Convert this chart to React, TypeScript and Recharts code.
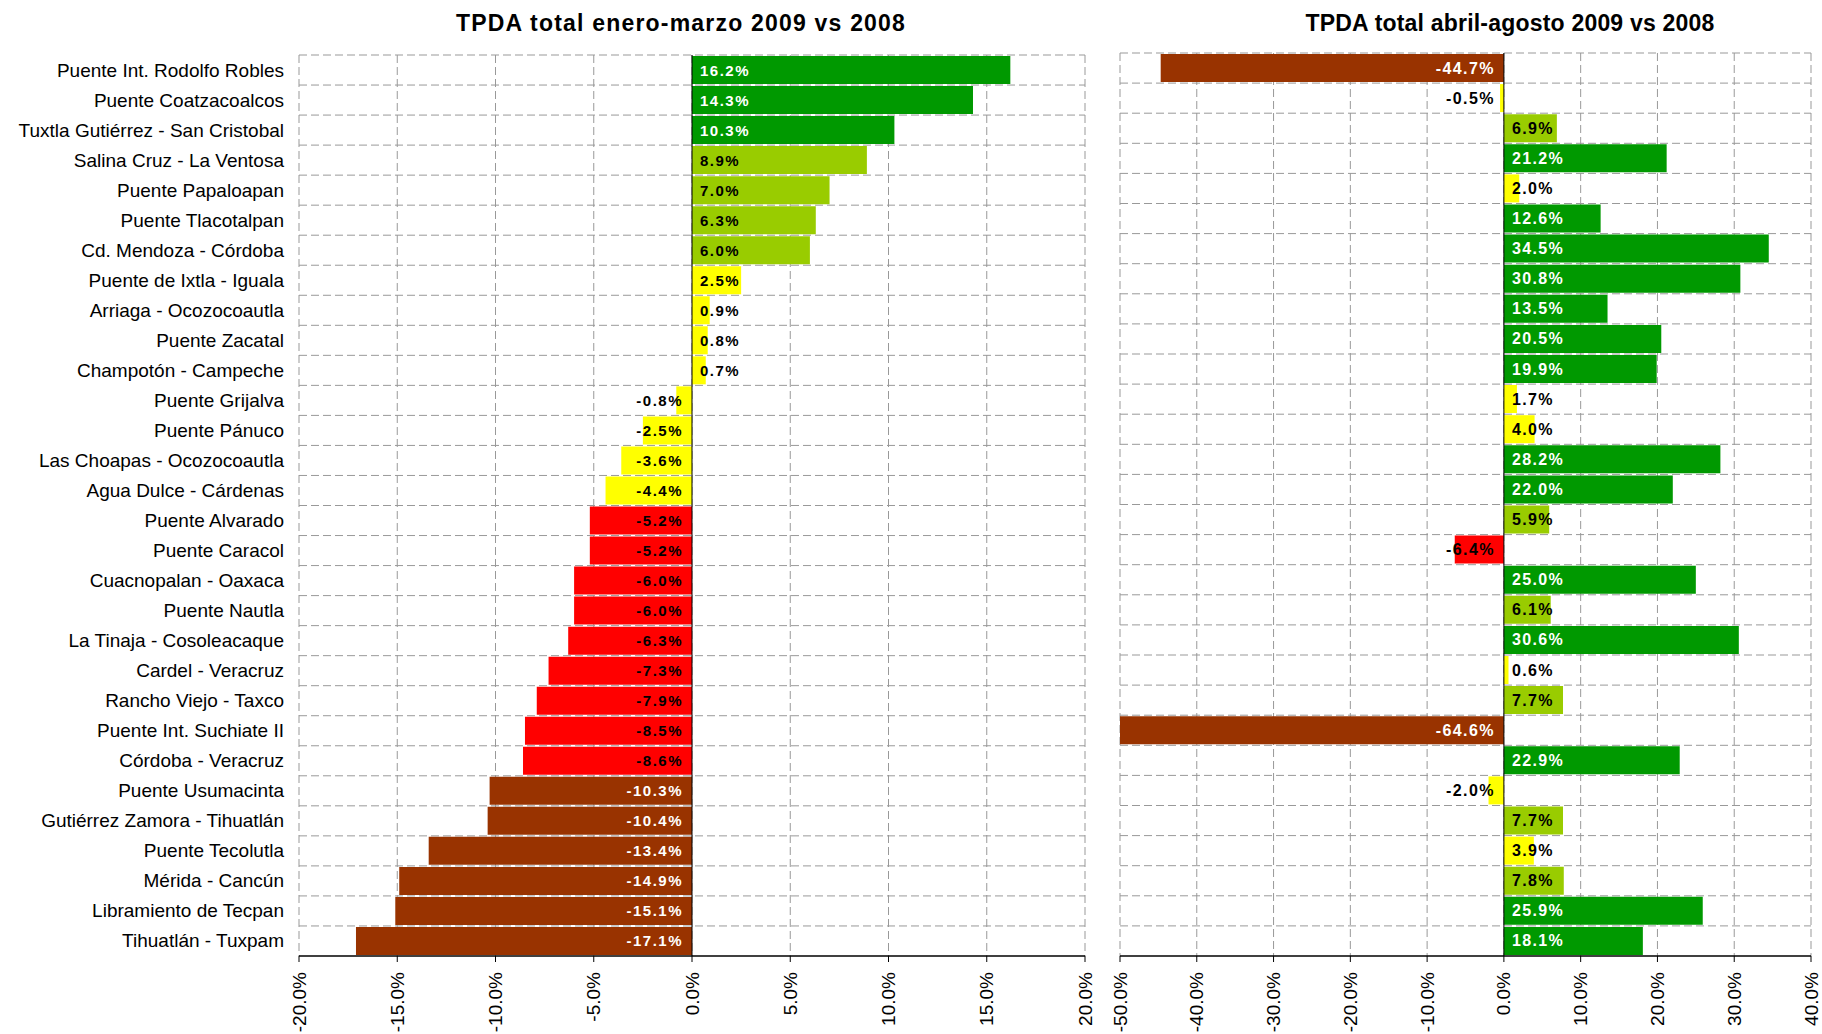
import React from "react";
import {
  BarChart,
  Bar,
  XAxis,
  YAxis,
  CartesianGrid,
  Cell,
  LabelList,
  ReferenceLine,
} from "recharts";

const categories = [
  "Puente Int. Rodolfo Robles",
  "Puente Coatzacoalcos",
  "Tuxtla Gutiérrez - San Cristobal",
  "Salina Cruz - La Ventosa",
  "Puente Papaloapan",
  "Puente Tlacotalpan",
  "Cd. Mendoza - Córdoba",
  "Puente de Ixtla - Iguala",
  "Arriaga - Ocozocoautla",
  "Puente Zacatal",
  "Champotón - Campeche",
  "Puente Grijalva",
  "Puente Pánuco",
  "Las Choapas - Ocozocoautla",
  "Agua Dulce - Cárdenas",
  "Puente Alvarado",
  "Puente Caracol",
  "Cuacnopalan - Oaxaca",
  "Puente Nautla",
  "La Tinaja - Cosoleacaque",
  "Cardel - Veracruz",
  "Rancho Viejo - Taxco",
  "Puente Int. Suchiate II",
  "Córdoba - Veracruz",
  "Puente Usumacinta",
  "Gutiérrez Zamora - Tihuatlán",
  "Puente Tecolutla",
  "Mérida - Cancún",
  "Libramiento de Tecpan",
  "Tihuatlán - Tuxpam",
];

// % change, January-March 2009 vs 2008
const eneroMarzo = [
  16.2, 14.3, 10.3, 8.9, 7.0, 6.3, 6.0, 2.5, 0.9, 0.8, 0.7, -0.8, -2.5, -3.6,
  -4.4, -5.2, -5.2, -6.0, -6.0, -6.3, -7.3, -7.9, -8.5, -8.6, -10.3, -10.4,
  -13.4, -14.9, -15.1, -17.1,
];

// % change, April-August 2009 vs 2008
const abrilAgosto = [
  -44.7, -0.5, 6.9, 21.2, 2.0, 12.6, 34.5, 30.8, 13.5, 20.5, 19.9, 1.7, 4.0,
  28.2, 22.0, 5.9, -6.4, 25.0, 6.1, 30.6, 0.6, 7.7, -64.6, 22.9, -2.0, 7.7,
  3.9, 7.8, 25.9, 18.1,
];

const leftTicks = [-20, -15, -10, -5, 0, 5, 10, 15, 20];
const rightTicks = [-50, -40, -30, -20, -10, 0, 10, 20, 30, 40];

const FONT = '"Liberation Sans", Arial, Helvetica, sans-serif';

// colour bands used by the original sheet
const colorFor = (v: number) => {
  if (v > 10) return "#009900";
  if (v >= 5) return "#99CC00";
  if (v > -5) return "#FFFF00";
  if (v >= -10) return "#FF0000";
  return "#993300";
};
const textFor = (v: number) => (v > 10 || v < -10 ? "#ffffff" : "#000000");

const pct = (v: number) => `${v.toFixed(1)}%`;

const rowLines = ({ offset }: any) =>
  categories.map((_, i) => offset.top + (i * offset.height) / categories.length);

const CategoryTick = ({ x, y, payload }: any) => (
  <text
    x={x}
    y={y}
    textAnchor="end"
    dominantBaseline="central"
    fontSize={19}
    fontFamily={FONT}
    fill="#000"
  >
    {payload.value}
  </text>
);

const PctTick = ({ x, y, payload }: any) => (
  <g transform={`translate(${x},${y})`}>
    <text
      transform="rotate(-90)"
      textAnchor="end"
      dominantBaseline="central"
      fontSize={19}
      fontFamily={FONT}
      fill="#000"
    >
      {pct(payload.value)}
    </text>
  </g>
);

const makeLabel =
  (size: number, spacing: number) =>
  ({ x, y, width, height, value }: any) => {
    const v = Number(value);
    const zero = v >= 0 ? Math.min(x, x + width) : Math.max(x, x + width);
    return (
      <text
        x={v >= 0 ? zero + 8 : zero - 9}
        y={y + height / 2}
        textAnchor={v >= 0 ? "start" : "end"}
        dominantBaseline="central"
        fontSize={size}
        fontWeight="bold"
        letterSpacing={spacing}
        fontFamily={FONT}
        fill={textFor(v)}
      >
        {pct(v)}
      </text>
    );
  };

const titleStyle: React.CSSProperties = {
  position: "absolute",
  top: 12,
  width: 600,
  textAlign: "center",
  fontFamily: FONT,
  fontWeight: "bold",
  fontSize: 23,
  lineHeight: "23px",
  color: "#000",
  whiteSpace: "nowrap",
};

export default function App() {
  const leftData = categories.map((name, i) => ({ name, v: eneroMarzo[i] }));
  const rightData = categories.map((name, i) => ({ name, v: abrilAgosto[i] }));

  return (
    <div
      style={{
        position: "absolute",
        left: 0,
        top: 0,
        width: 1822,
        height: 1034,
        background: "#fff",
        fontFamily: FONT,
      }}
    >
      <div style={{ ...titleStyle, left: 381, letterSpacing: 1.2 }}>
        TPDA total enero-marzo 2009 vs 2008
      </div>
      <div style={{ ...titleStyle, left: 1210, letterSpacing: 0.2 }}>
        TPDA total abril-agosto 2009 vs 2008
      </div>

      <div style={{ position: "absolute", left: 0, top: 0 }}>
        <BarChart
          width={1100}
          height={1034}
          data={leftData}
          layout="vertical"
          margin={{ top: 55, right: 15, bottom: 0, left: 0 }}
          barCategoryGap={1}
        >
          <CartesianGrid
            stroke="#999"
            strokeDasharray="8 4"
            horizontalCoordinatesGenerator={rowLines}
          />
          <XAxis
            type="number"
            domain={[-20, 20]}
            ticks={leftTicks}
            height={78}
            tick={<PctTick />}
            tickSize={6}
            tickMargin={10}
            tickLine={{ stroke: "#000" }}
            axisLine={{ stroke: "#000", strokeWidth: 1.5 }}
            interval={0}
          />
          <YAxis
            type="category"
            dataKey="name"
            width={299}
            tick={<CategoryTick />}
            tickLine={false}
            axisLine={false}
            tickSize={0}
            tickMargin={15}
            interval={0}
          />
          <Bar dataKey="v" isAnimationActive={false}>
            {leftData.map((d, i) => (
              <Cell key={i} fill={colorFor(d.v)} />
            ))}
            <LabelList dataKey="v" content={makeLabel(15, 1.5)} />
          </Bar>
          <ReferenceLine x={0} stroke="#000" strokeWidth={1} />
        </BarChart>
      </div>

      <div style={{ position: "absolute", left: 1100, top: 0 }}>
        <BarChart
          width={722}
          height={1034}
          data={rightData}
          layout="vertical"
          margin={{ top: 53, right: 11, bottom: 0, left: 20 }}
          barCategoryGap={1}
        >
          <CartesianGrid
            stroke="#999"
            strokeDasharray="8 4"
            horizontalCoordinatesGenerator={rowLines}
          />
          <XAxis
            type="number"
            domain={[-50, 40]}
            ticks={rightTicks}
            allowDataOverflow
            height={78}
            tick={<PctTick />}
            tickSize={6}
            tickMargin={10}
            tickLine={{ stroke: "#000" }}
            axisLine={{ stroke: "#000", strokeWidth: 1.5 }}
            interval={0}
          />
          <YAxis type="category" dataKey="name" hide width={0} />
          <Bar dataKey="v" isAnimationActive={false}>
            {rightData.map((d, i) => (
              <Cell key={i} fill={colorFor(d.v)} />
            ))}
            <LabelList dataKey="v" content={makeLabel(16, 1.4)} />
          </Bar>
          <ReferenceLine x={0} stroke="#000" strokeWidth={1} />
        </BarChart>
      </div>
    </div>
  );
}
